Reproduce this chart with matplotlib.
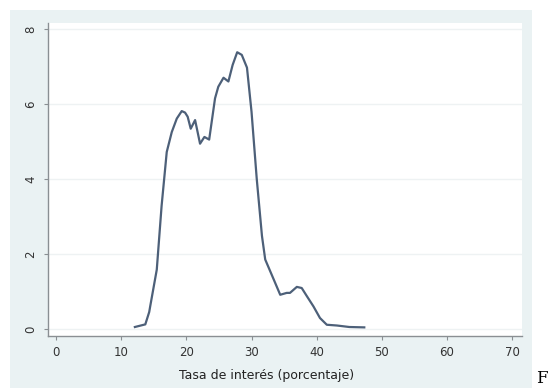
import matplotlib
matplotlib.use("Agg")
import matplotlib.pyplot as plt
from matplotlib.patches import Rectangle

# density curve
tasa = [12.1, 13.7, 14.3, 14.45, 15.46, 16.2, 16.99, 17.76, 18.53, 19.29, 19.8,
        20.2, 20.67, 21.34, 22.1, 22.77, 23.5, 24.4, 24.9, 25.7, 26.45, 27.1,
        27.8, 28.5, 29.3, 30.0, 30.8, 31.6, 32.1, 33.4, 34.4, 35.4, 35.9, 36.95,
        37.7, 38.5, 39.5, 40.5, 41.55, 43.1, 45.0, 47.3]
densidad = [0.05, 0.12, 0.45, 0.60, 1.58, 3.28, 4.72, 5.25, 5.61, 5.81, 5.77,
            5.66, 5.34, 5.57, 4.94, 5.12, 5.05, 6.15, 6.46, 6.70, 6.60, 7.04,
            7.38, 7.31, 6.97, 5.79, 4.00, 2.48, 1.85, 1.32, 0.91, 0.96, 0.96, 1.12,
            1.09, 0.87, 0.60, 0.29, 0.11, 0.09, 0.05, 0.04]
x_ticks = [0, 10, 20, 30, 40, 50, 60, 70]
y_ticks = [0, 2, 4, 6, 8]

W, H = 548, 391
fig = plt.figure(figsize=(W / 100, H / 100), dpi=100)
fig.patch.set_facecolor("white")

# outer light bluish-gray graph region
fig.patches.append(Rectangle((10 / W, 3 / H), 522 / W, 378 / H,
                             transform=fig.transFigure, facecolor="#eaf2f3",
                             edgecolor="none", zorder=-1))

ax = fig.add_axes([48 / W, 55 / H, 474 / W, 313 / H])
ax.set_zorder(1)
ax.set_facecolor("white")
ax.plot(tasa, densidad, color="#4d6079", lw=1.6, solid_joinstyle="round")

ax.set_xlim(-1.23, 71.5)
ax.set_ylim(-0.19, 8.16)
ax.set_xticks(x_ticks)
ax.set_yticks(y_ticks)
ax.grid(axis="y", color="#eef2f3", lw=1.0)
ax.set_axisbelow(True)

for s in ["top", "right"]:
    ax.spines[s].set_visible(False)
for s in ["left", "bottom"]:
    ax.spines[s].set_color("#8a8f93")
    ax.spines[s].set_linewidth(1.0)

ax.tick_params(direction="out", length=3, width=0.8, color="#8a8f93",
               labelsize=8.5, labelcolor="#333333")
ax.tick_params(axis="x", pad=4)
ax.tick_params(axis="y", pad=5)
for lab in ax.get_yticklabels():
    lab.set_rotation(90)
    lab.set_va("center")

ax.set_xlabel("Tasa de interés (porcentaje)", fontsize=9, color="#222222")
ax.xaxis.set_label_coords((267 - 48) / 474, -33 / 313)

# cut-off caption letter at the right edge
fig.text(536 / W, 4 / H, "F", fontsize=12, family="DejaVu Serif", color="black",
         ha="left", va="bottom")

fig.savefig("out.png", dpi=100)
